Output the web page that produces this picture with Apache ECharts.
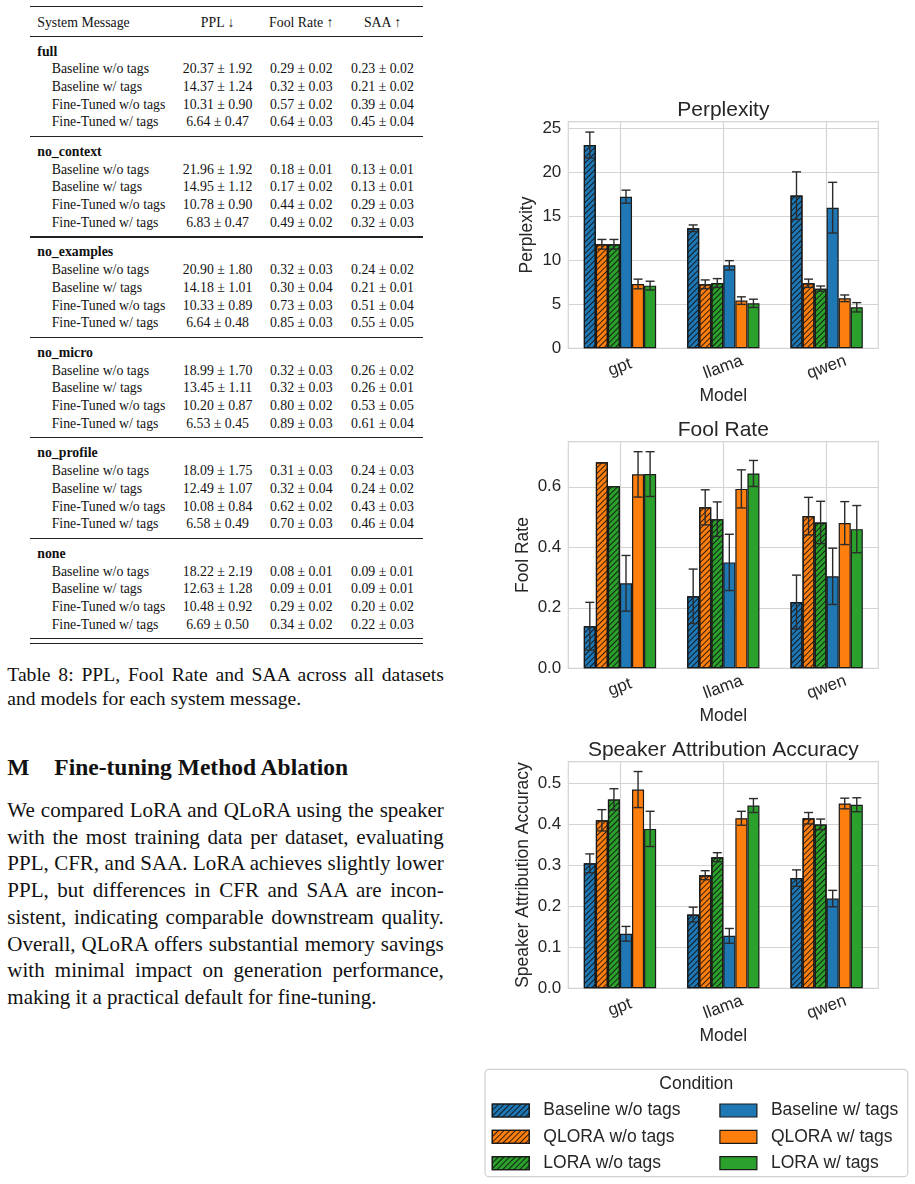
<!DOCTYPE html>
<html>
<head>
<meta charset="utf-8">
<script src="https://cdn.jsdelivr.net/npm/echarts@6/dist/echarts.min.js"></script>
<style>
  body { margin: 0; background: #fff; width: 915px; height: 1184px; overflow: hidden; position: relative; }
  #paper { position: absolute; left: 0; top: 0; width: 465px; height: 1184px;
    font-family: 'Liberation Serif', 'Times New Roman', serif; color: #111; }
  .t { position: absolute; white-space: nowrap; font-size: 13.8px; line-height: 18px; }
  .c { width: 120px; text-align: center; }
  .rule { position: absolute; left: 30px; width: 392.7px; background: #222; }
  .ln { position: absolute; left: 7.3px; width: 436.5px; text-align: justify; text-align-last: justify; }
  .ln.last { text-align-last: left; }
  #chart { position: absolute; left: 470px; top: 0; width: 445px; height: 1184px; }
</style>
</head>
<body>
<div id="paper"></div>
<div id="chart"></div>
<script>
// ---- table text ----
const tableGroups = ['full', 'no_context', 'no_examples', 'no_micro', 'no_profile', 'none']
const tableRowLabels = ['Baseline w/o tags', 'Baseline w/ tags', 'Fine-Tuned w/o tags', 'Fine-Tuned w/ tags']
const tablePPL = [
  ['20.37 ± 1.92', '14.37 ± 1.24', '10.31 ± 0.90', '6.64 ± 0.47'],
  ['21.96 ± 1.92', '14.95 ± 1.12', '10.78 ± 0.90', '6.83 ± 0.47'],
  ['20.90 ± 1.80', '14.18 ± 1.01', '10.33 ± 0.89', '6.64 ± 0.48'],
  ['18.99 ± 1.70', '13.45 ± 1.11', '10.20 ± 0.87', '6.53 ± 0.45'],
  ['18.09 ± 1.75', '12.49 ± 1.07', '10.08 ± 0.84', '6.58 ± 0.49'],
  ['18.22 ± 2.19', '12.63 ± 1.28', '10.48 ± 0.92', '6.69 ± 0.50']
]
const tableFool = [
  ['0.29 ± 0.02', '0.32 ± 0.03', '0.57 ± 0.02', '0.64 ± 0.03'],
  ['0.18 ± 0.01', '0.17 ± 0.02', '0.44 ± 0.02', '0.49 ± 0.02'],
  ['0.32 ± 0.03', '0.30 ± 0.04', '0.73 ± 0.03', '0.85 ± 0.03'],
  ['0.32 ± 0.03', '0.32 ± 0.03', '0.80 ± 0.02', '0.89 ± 0.03'],
  ['0.31 ± 0.03', '0.32 ± 0.04', '0.62 ± 0.02', '0.70 ± 0.03'],
  ['0.08 ± 0.01', '0.09 ± 0.01', '0.29 ± 0.02', '0.34 ± 0.02']
]
const tableSAA = [
  ['0.23 ± 0.02', '0.21 ± 0.02', '0.39 ± 0.04', '0.45 ± 0.04'],
  ['0.13 ± 0.01', '0.13 ± 0.01', '0.29 ± 0.03', '0.32 ± 0.03'],
  ['0.24 ± 0.02', '0.21 ± 0.01', '0.51 ± 0.04', '0.55 ± 0.05'],
  ['0.26 ± 0.02', '0.26 ± 0.01', '0.53 ± 0.05', '0.61 ± 0.04'],
  ['0.24 ± 0.03', '0.24 ± 0.02', '0.43 ± 0.03', '0.46 ± 0.04'],
  ['0.09 ± 0.01', '0.09 ± 0.01', '0.20 ± 0.02', '0.22 ± 0.03']
]
const captionLines = ['Table 8: PPL, Fool Rate and SAA across all datasets', 'and models for each system message.']
const bodyLines = [
  'We compared LoRA and QLoRA using the speaker',
  'with the most training data per dataset, evaluating',
  'PPL, CFR, and SAA. LoRA achieves slightly lower',
  'PPL, but differences in CFR and SAA are incon-',
  'sistent, indicating comparable downstream quality.',
  'Overall, QLoRA offers substantial memory savings',
  'with minimal impact on generation performance,',
  'making it a practical default for fine-tuning.'
]

// ---- chart data ----
const models = ['gpt', 'llama', 'qwen']
const conditions = ['Baseline w/o tags', 'QLORA w/o tags', 'LORA w/o tags', 'Baseline w/ tags', 'QLORA w/ tags', 'LORA w/ tags']
// rows = condition, columns = model
const pplMean = [
  [23.1, 13.64, 17.35],
  [11.82, 7.27, 7.39],
  [11.82, 7.42, 6.78],
  [17.23, 9.43, 15.98],
  [7.31, 5.42, 5.68],
  [7.12, 5.11, 4.66]
]
const pplErr = [
  [1.47, 0.38, 2.7],
  [0.55, 0.5, 0.47],
  [0.55, 0.5, 0.3],
  [0.74, 0.53, 2.88],
  [0.55, 0.43, 0.38],
  [0.5, 0.47, 0.53]
]
const foolMean = [
  [0.139, 0.238, 0.219],
  [0.681, 0.532, 0.503],
  [0.602, 0.493, 0.482],
  [0.281, 0.350, 0.304],
  [0.641, 0.593, 0.480],
  [0.642, 0.644, 0.460]
]
const foolErr = [
  [0.079, 0.09, 0.089],
  [0, 0.058, 0.062],
  [0, 0.057, 0.07],
  [0.092, 0.093, 0.093],
  [0.075, 0.063, 0.071],
  [0.074, 0.043, 0.078]
]
const saaMean = [
  [0.305, 0.180, 0.269],
  [0.410, 0.276, 0.415],
  [0.461, 0.320, 0.400],
  [0.133, 0.128, 0.219],
  [0.485, 0.415, 0.451],
  [0.389, 0.446, 0.448]
]
const saaErr = [
  [0.023, 0.018, 0.02],
  [0.026, 0.011, 0.014],
  [0.026, 0.011, 0.013],
  [0.018, 0.018, 0.02],
  [0.044, 0.017, 0.013],
  [0.043, 0.017, 0.017]
]

// ---- left column (table + text) ----
const paper = document.getElementById('paper')
function put(cls, text, left, cy, extra) {
  const d = document.createElement('div')
  d.className = cls
  d.textContent = text
  d.style.left = left + 'px'
  d.style.top = (cy - 9) + 'px'
  if (extra) Object.assign(d.style, extra)
  paper.appendChild(d)
  return d
}
function rule(y, h) {
  const r = document.createElement('div')
  r.className = 'rule'
  r.style.top = (y - h / 2) + 'px'
  r.style.height = h + 'px'
  paper.appendChild(r)
}
const colX = [217.6, 301.3, 382.5]
rule(6.7, 1.6)
put('t', 'System Message', 37.3, 22.7)
put('t c', 'PPL ↓', colX[0] - 60, 22.7)
put('t c', 'Fool Rate ↑', colX[1] - 60, 22.7)
put('t c', 'SAA ↑', colX[2] - 60, 22.7)
rule(36, 1)
tableGroups.forEach((g, gi) => {
  const r0 = 36 + gi * 100.45
  if (gi > 0) rule(r0, 1.4)
  put('t', g, 37.3, r0 + 15.5, { fontWeight: 'bold' })
  tableRowLabels.forEach((lab, ri) => {
    const cy = r0 + 33.3 + ri * 17.7
    put('t', lab, 51.7, cy)
    put('t c', tablePPL[gi][ri], colX[0] - 60, cy)
    put('t c', tableFool[gi][ri], colX[1] - 60, cy)
    put('t c', tableSAA[gi][ri], colX[2] - 60, cy)
  })
})
rule(638.3, 1.2)
rule(643.3, 1.2)

captionLines.forEach((s, i) => {
  const d = document.createElement('div')
  d.className = 'ln' + (i === captionLines.length - 1 ? ' last' : '')
  d.textContent = s
  Object.assign(d.style, { top: (675 + i * 24.3 - 12) + 'px', fontSize: '19.6px', lineHeight: '24px' })
  paper.appendChild(d)
})
put('t', 'M', 7.3, 766.7, { fontSize: '23.5px', fontWeight: 'bold', lineHeight: '28px', top: '752.7px' })
put('t', 'Fine-tuning Method Ablation', 54.3, 766.7, { fontSize: '23.5px', fontWeight: 'bold', lineHeight: '28px', top: '752.7px' })
bodyLines.forEach((s, i) => {
  const d = document.createElement('div')
  d.className = 'ln' + (i === bodyLines.length - 1 ? ' last' : '')
  d.textContent = s
  Object.assign(d.style, { top: (810 + i * 26.7 - 13) + 'px', fontSize: '21px', lineHeight: '26px' })
  paper.appendChild(d)
})

// ---- charts ----
const colors = ['#1f77b4', '#ff7f0e', '#2ca02c', '#1f77b4', '#ff7f0e', '#2ca02c']
const hatched = [true, true, true, false, false, false]
const textColor = '#262626'
const gridColor = '#d4d4d4'
const font = '"Liberation Sans", Arial, sans-serif'
const hatch = {
  symbol: 'rect', symbolSize: 1, color: 'rgba(10,10,10,0.85)',
  dashArrayX: [1, 0], dashArrayY: [1, 2.2], rotation: -Math.PI / 4
}

const panels = [
  { title: 'Perplexity', yName: 'Perplexity', top: 121.7, max: 25.75, step: 5, dec: 0, nameGap: 32, mean: pplMean, err: pplErr },
  { title: 'Fool Rate', yName: 'Fool Rate', top: 441.7, max: 0.749, step: 0.2, dec: 1, nameGap: 36, mean: foolMean, err: foolErr },
  { title: 'Speaker Attribution Accuracy', yName: 'Speaker Attribution Accuracy', top: 761.7, max: 0.553, step: 0.1, dec: 1, nameGap: 36, mean: saaMean, err: saaErr }
]
const plotLeft = 98.3, plotW = 310, plotH = 226.6

function errorBars(params, api) {
  const i = api.value(0), v = api.value(1), e = api.value(2), k = api.value(3)
  const band = api.size([1, 0])[0]
  const bw = band * 0.7 / 6
  const x = api.coord([i, v])[0] + (k - 2.5) * bw
  const y1 = api.coord([i, v + e])[1]
  const y2 = api.coord([i, v - e])[1]
  const cap = 4.5
  const style = { stroke: '#2b2b2b', lineWidth: 1.4 }
  return {
    type: 'group',
    children: [
      { type: 'line', shape: { x1: x, y1: y1, x2: x, y2: y2 }, style },
      { type: 'line', shape: { x1: x - cap, y1: y1, x2: x + cap, y2: y1 }, style },
      { type: 'line', shape: { x1: x - cap, y1: y2, x2: x + cap, y2: y2 }, style }
    ]
  }
}

const grid = [], xAxis = [], yAxis = [], series = [], graphic = []
panels.forEach((p, gi) => {
  grid.push({ left: plotLeft, top: p.top, width: plotW, height: plotH, show: true, borderColor: gridColor, borderWidth: 1.2, backgroundColor: '#fff' })
  xAxis.push({
    type: 'category', gridIndex: gi, data: models,
    axisLine: { show: false }, axisTick: { show: false },
    axisLabel: { rotate: 20, align: 'center', verticalAlign: 'middle', margin: 19, fontSize: 17, color: textColor, fontFamily: font },
    name: 'Model', nameLocation: 'middle', nameGap: 39, nameMoveOverlap: false,
    nameTextStyle: { fontSize: 17.5, color: textColor, fontFamily: font }
  })
  yAxis.push({
    type: 'value', gridIndex: gi, min: 0, max: p.max, interval: p.step,
    axisLine: { show: false }, axisTick: { show: false },
    axisLabel: {
      fontSize: 17, color: textColor, fontFamily: font, margin: 7,
      formatter: v => { const r = v / p.step; return Math.abs(r - Math.round(r)) < 1e-6 ? v.toFixed(p.dec) : '' }
    },
    splitLine: { lineStyle: { color: gridColor, width: 1.2 } },
    name: p.yName, nameLocation: 'middle', nameGap: p.nameGap, nameMoveOverlap: false,
    nameTextStyle: { fontSize: 17.5, color: textColor, fontFamily: font }
  })
  conditions.forEach((name, k) => {
    const itemStyle = { color: colors[k], borderColor: '#1a1a1a', borderWidth: 1.2 }
    if (hatched[k]) itemStyle.decal = hatch
    series.push({
      name, type: 'bar', xAxisIndex: gi, yAxisIndex: gi, data: p.mean[k],
      barGap: '0%', barCategoryGap: '30%', itemStyle, z: 3, silent: true
    })
  })
  const eb = []
  conditions.forEach((c, k) => models.forEach((m, i) => {
    if (p.err[k][i] > 0) eb.push([i, p.mean[k][i], p.err[k][i], k])
  }))
  series.push({ type: 'custom', xAxisIndex: gi, yAxisIndex: gi, data: eb, encode: { x: 0, y: 1 }, renderItem: errorBars, z: 5, silent: true })
  graphic.push({
    type: 'text', x: plotLeft + plotW / 2, y: p.top - 11.5,
    style: { text: p.title, font: '21px ' + font, fill: textColor, align: 'center', verticalAlign: 'middle' }
  })
})
// helper axes drawing vertical grid lines through the category centres
panels.forEach((p, gi) => {
  xAxis.push({
    type: 'category', gridIndex: gi, boundaryGap: false, data: ['a', 'b', 'c', 'd', 'e', 'f', 'g'],
    axisLine: { show: false }, axisTick: { show: false }, axisLabel: { show: false },
    splitLine: { show: true, interval: (i) => i % 2 === 1, lineStyle: { color: gridColor, width: 1.2 } }
  })
})

// legend box
graphic.push({
  type: 'rect', shape: { x: 15, y: 1069.3, width: 422.7, height: 107.4, r: 4 },
  style: { fill: '#fff', stroke: '#d0d0d0', lineWidth: 1.2 }, z: -1
})
graphic.push({
  type: 'text', x: 226.3, y: 1084.5,
  style: { text: 'Condition', font: '17.5px ' + font, fill: textColor, align: 'center', verticalAlign: 'middle' }
})
const legendBase = {
  orient: 'vertical', icon: 'rect', itemWidth: 37, itemHeight: 13, itemGap: 8.3, top: 1101.5, padding: 0, selectedMode: false,
  textStyle: { fontSize: 17.5, color: textColor, fontFamily: font, padding: [0, 0, 0, 9] },
  itemStyle: { borderColor: '#1a1a1a', borderWidth: 1.2 }
}

const chart = echarts.init(document.getElementById('chart'), null, { renderer: 'canvas' })
chart.setOption({
  animation: false,
  grid, xAxis, yAxis, series, graphic,
  legend: [
    Object.assign({}, legendBase, { left: 21.7, data: conditions.slice(0, 3) }),
    Object.assign({}, legendBase, { left: 249.3, data: conditions.slice(3) })
  ]
})
</script>
</body>
</html>
